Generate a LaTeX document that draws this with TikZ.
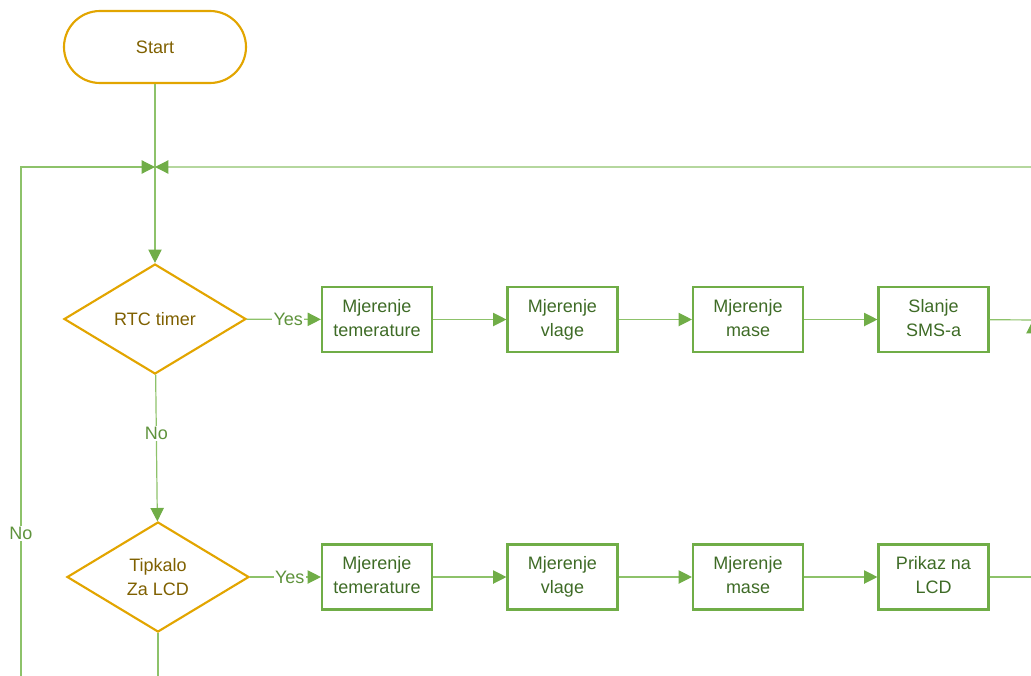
\documentclass[tikz,border=0pt]{standalone}
\usepackage{fontspec}
\setmainfont{Liberation Sans}
\usetikzlibrary{arrows.meta, shapes.geometric}
\definecolor{gold}{HTML}{E2A500}
\definecolor{goldtext}{HTML}{7F6000}
\definecolor{grn}{HTML}{70AD47}
\definecolor{grnline}{HTML}{8DC26A}
\definecolor{grntext}{HTML}{3E6B26}
\tikzset{
    every node/.style={font=\fontsize{13.5}{18}\selectfont},
    stepbox/.style={draw=grn, line width=1.6pt, text=grntext, align=center,
        minimum width=82.5pt, minimum height=48.75pt, inner sep=0pt},
    startbox/.style={draw=gold, line width=1.6pt, text=goldtext, rounded corners=27pt,
        minimum width=136.5pt, minimum height=54pt},
    choice/.style={draw=gold, line width=1.6pt, text=goldtext, diamond, aspect=1.65,
        align=center, inner sep=0pt, minimum width=136.5pt, minimum height=82.5pt},
    flow/.style={draw=grnline, line width=0.9pt},
    tip/.style={-{Triangle[length=10pt, width=10pt, color=grn]}},
    answer/.style={fill=white, text=grn!85!black, inner sep=1pt}
}
\begin{document}
\begin{tikzpicture}[x=0.75pt, y=-0.75pt]
    \useasboundingbox (0,0) rectangle (1031,675);
    \clip (0,0) rectangle (1031,675);
    % start and the two checks
    \node[startbox] (start) at (155,47) {Start};
    \node[choice] (rtc) at (155,319) {RTC timer};
    \node[choice] (lcdkey) at (158,577) {Tipkalo\\Za LCD};
    \coordinate (jn) at (155,167);
    % measuring chains
    \foreach \t [count=\i] in {{Mjerenje\\temerature},{Mjerenje\\vlage},{Mjerenje\\mase},{Slanje\\SMS-a}}
        \node[stepbox] (a\i) at ({377+185.5*(\i-1)},319.5) {\strut\t\strut};
    \foreach \t [count=\i] in {{Mjerenje\\temerature},{Mjerenje\\vlage},{Mjerenje\\mase},{Prikaz na\\LCD}}
        \node[stepbox] (b\i) at ({377+185.5*(\i-1)},577) {\strut\t\strut};
    \foreach \i [evaluate=\i as \j using int(\i+1)] in {1,2,3}{
        \draw[flow,tip] (a\i) -- (a\j);
        \draw[flow,tip] (b\i) -- (b\j);
    }
    % connectors
    \draw[flow,tip] (start) -- (rtc);
    \draw[flow,tip] (rtc) -- node[answer, pos=0.56]{Yes} (a1);
    \draw[flow,tip] (lcdkey) -- node[answer, pos=0.56]{Yes} (b1);
    \draw[flow,tip] (rtc) -- node[answer, pos=0.4]{No} (lcdkey);
    \draw[flow] (lcdkey) -- (158,700);
    \draw[flow,tip] (21,700) -- node[answer, pos=0.313]{No} (21,167) -- (jn);
    \draw[flow,tip] (a4) -- (1045,320) |- (jn);
    \draw[flow,tip] (b4) -| (1033,320);
\end{tikzpicture}
\end{document}
